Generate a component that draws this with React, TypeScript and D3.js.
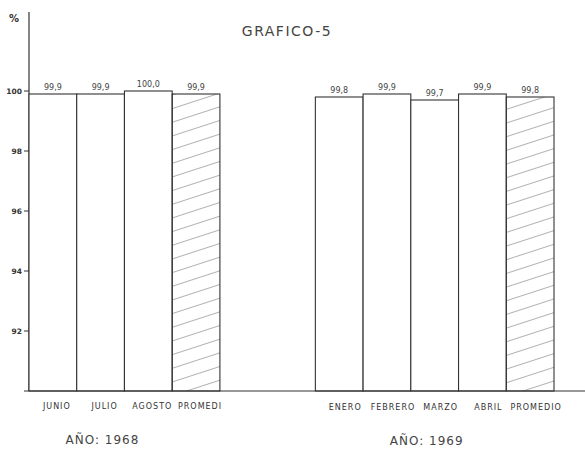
import React from "react";
import * as d3 from "d3";

const months1968 = ["JUNIO", "JULIO", "AGOSTO", "PROMEDIO"];
const values1968 = [99.9, 99.9, 100.0, 99.9];
const months1969 = ["ENERO", "FEBRERO", "MARZO", "ABRIL", "PROMEDIO"];
const values1969 = [99.8, 99.9, 99.7, 99.9, 99.8];
const yTicks = [100, 98, 96, 94, 92];
const labels1968 = ["JUNIO", "JULIO", "AGOSTO", "PROMEDI"];
const labels1969 = ["ENERO", "FEBRERO", "MARZO", "ABRIL", "PROMEDIO"];

type Bar = { key: string; value: number; avg: boolean };

export default function App() {
  const W = 585, H = 452;
  const left = 29, right = 554, baseY = 391;
  const bars: Bar[] = [
    ...months1968.map((m, i) => ({ key: "1968-" + m, value: values1968[i], avg: m === "PROMEDIO" })),
    ...months1969.map((m, i) => ({ key: "1969-" + m, value: values1969[i], avg: m === "PROMEDIO" })),
  ];
  const domain = [
    ...months1968.map((m) => "1968-" + m),
    "gap1",
    "gap2",
    ...months1969.map((m) => "1969-" + m),
  ];
  const x = d3.scaleBand<string>().domain(domain).range([left, right]).padding(0);
  const y = d3.scaleLinear().domain([90, 100]).range([baseY, 91]);
  const ink = "#333";
  const font = "'DejaVu Sans', sans-serif";
  const fmt = (v: number) => v.toFixed(1).replace(".", ",");
  const groupCenter = (keys: string[]) => {
    const a = x(keys[0])!;
    const b = x(keys[keys.length - 1])! + x.bandwidth();
    return (a + b) / 2;
  };

  return (
    <svg width={W} height={H} style={{ position: "absolute", left: 0, top: 0, background: "#fff" }}>
      <defs>
        <pattern id="hatch" patternUnits="userSpaceOnUse" width="13" height="13" patternTransform="rotate(-18)">
          <line x1="0" y1="0" x2="13" y2="0" stroke="#555" strokeWidth="0.9" />
        </pattern>
      </defs>
      <rect width={W} height={H} fill="#fff" />
      <text x={287} y={36} textAnchor="middle" fontFamily={font} fontSize={14} letterSpacing={1.5} fill="#444">
        GRAFICO-5
      </text>
      <text x={14} y={22} textAnchor="middle" fontFamily={font} fontSize={10} fontWeight="bold" fill="#333">
        %
      </text>
      {/* y axis */}
      <line x1={left} y1={12} x2={left} y2={baseY} stroke={ink} strokeWidth={1.2} />
      {yTicks.map((t) => (
        <g key={t}>
          <line x1={left - 5} x2={left} y1={y(t)} y2={y(t)} stroke={ink} strokeWidth={1} />
          <text x={left - 7} y={y(t) + 2.5} textAnchor="end" fontFamily={font} fontSize={7.5} fontWeight="bold" fill="#333">
            {t}
          </text>
        </g>
      ))}
      {/* bars */}
      {bars.map((b) => {
        const bx = x(b.key)!;
        const by = y(b.value);
        return (
          <g key={b.key}>
            <rect x={bx} y={by} width={x.bandwidth()} height={baseY - by} fill={b.avg ? "url(#hatch)" : "#fff"} stroke={ink} strokeWidth={1.1} />
            <text x={bx + x.bandwidth() / 2} y={by - 4} textAnchor="middle" fontFamily={font} fontSize={8} fill="#444">
              {fmt(b.value)}
            </text>
          </g>
        );
      })}
      {/* baseline */}
      <line x1={left - 5} x2={W} y1={baseY} y2={baseY} stroke={ink} strokeWidth={1.2} />
      {/* category labels */}
      {months1968.map((m, i) => (
        <text key={m} x={x("1968-" + m)! + x.bandwidth() / 2 + 4} y={409} textAnchor="middle" fontFamily={font} fontSize={8} letterSpacing={1} fill="#333">
          {labels1968[i]}
        </text>
      ))}
      {months1969.map((m, i) => (
        <text key={m} x={x("1969-" + m)! + x.bandwidth() / 2 + 6} y={410} textAnchor="middle" fontFamily={font} fontSize={8} letterSpacing={1} fill="#333">
          {labels1969[i]}
        </text>
      ))}
      <text x={groupCenter(months1968.map((m) => "1968-" + m)) - 22} y={444} textAnchor="middle" fontFamily={font} fontSize={12} letterSpacing={1} fill="#444">
        AÑO: 1968
      </text>
      <text x={groupCenter(months1969.map((m) => "1969-" + m)) - 8} y={445} textAnchor="middle" fontFamily={font} fontSize={12} letterSpacing={1} fill="#444">
        AÑO: 1969
      </text>
    </svg>
  );
}
